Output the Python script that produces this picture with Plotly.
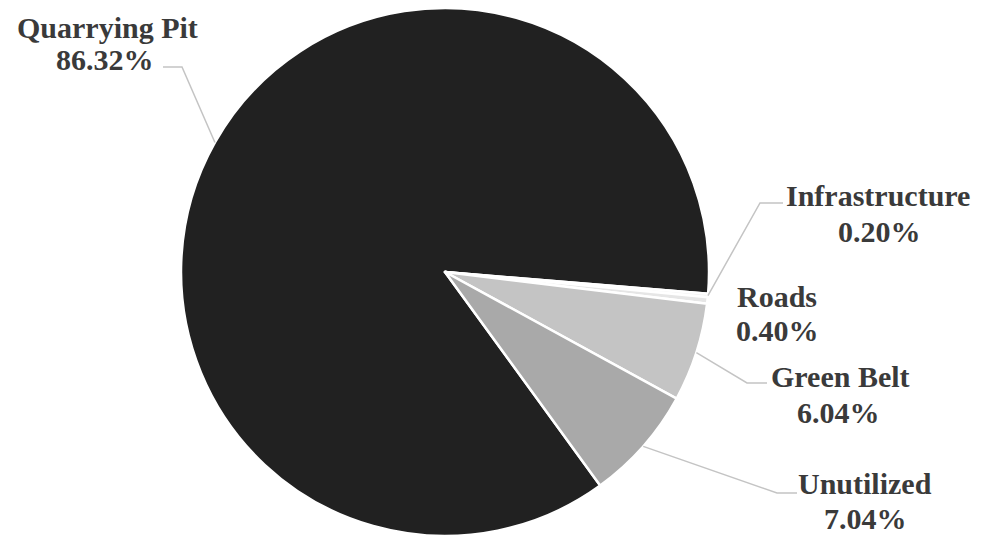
import math
import plotly.graph_objects as go

# Datos del gráfico
categorias = ['Quarrying Pit', 'Infrastructure', 'Roads', 'Green Belt', 'Unutilized']
porcentajes = [86.32, 0.20, 0.40, 6.04, 7.04]
colores = ['#212121', '#f4f4f4', '#e6e6e6', '#c4c4c4', '#a9a9a9']

# La página añade 8 px de margen al cuerpo: todo se desplaza
OFF = 8
W, H = 983, 540
cx, cy, r = 445 - OFF, 272 - OFF, 264
rotacion = 144  # grados, sentido horario desde las 12

# Posición (px de página) de nombre y porcentaje, y de las líneas guía
nombre_pos = [(107, 27), (878, 195), (777, 296), (840, 376), (865, 483)]
pct_pos = [(105, 59), (879, 231), (777, 330), (838, 412), (865, 518)]
codo_pos = [(182, 67), (760, 203), None, (747, 383), (777, 493)]
fin_guia = [(163, 67), (783, 203), None, (767, 383), (797, 493)]

fig = go.Figure()
fig.add_trace(go.Pie(
    labels=categorias, values=porcentajes,
    sort=False, direction='clockwise', rotation=rotacion,
    marker=dict(colors=colores, line=dict(color='white', width=2.5)),
    textinfo='none', hoverinfo='label+percent', showlegend=False,
    domain=dict(x=[(cx - r) / W, (cx + r) / W], y=[(H - cy - r) / H, (H - cy + r) / H]),
))


def px(x, y):
    return (x - OFF) / W, 1 - (y - OFF) / H


fuente = dict(family='Liberation Serif', size=30, color='#3a3a3a')

# Ángulo medio de cada porción para las líneas guía
total = sum(porcentajes)
inicio = 90 - rotacion
acum = 0
for i, (cat, val) in enumerate(zip(categorias, porcentajes)):
    medio = inicio - (acum + val / 2) / total * 360
    acum += val
    ex = cx + r * math.cos(math.radians(medio))
    ey = cy - r * math.sin(math.radians(medio))
    if codo_pos[i] is not None:
        bx, by = px(*codo_pos[i])
        fx, fy = px(*fin_guia[i])
        fig.add_shape(type='path', xref='paper', yref='paper',
                      path=f'M {ex / W} {1 - ey / H} L {bx} {by} L {fx} {fy}',
                      line=dict(color='#c4c4c4', width=1.5))
    nx, ny = px(*nombre_pos[i])
    fig.add_annotation(x=nx, y=ny, xref='paper', yref='paper', text=f'<b>{cat}</b>',
                       showarrow=False, font=fuente, xanchor='center', yanchor='middle')
    qx, qy = px(*pct_pos[i])
    fig.add_annotation(x=qx, y=qy, xref='paper', yref='paper', text=f'<b>{val:.2f}%</b>',
                       showarrow=False, font=fuente, xanchor='center', yanchor='middle')

fig.update_layout(width=W, height=H, margin=dict(l=0, r=0, t=0, b=0),
                  paper_bgcolor='white', plot_bgcolor='white')

fig.write_html("out.html")
